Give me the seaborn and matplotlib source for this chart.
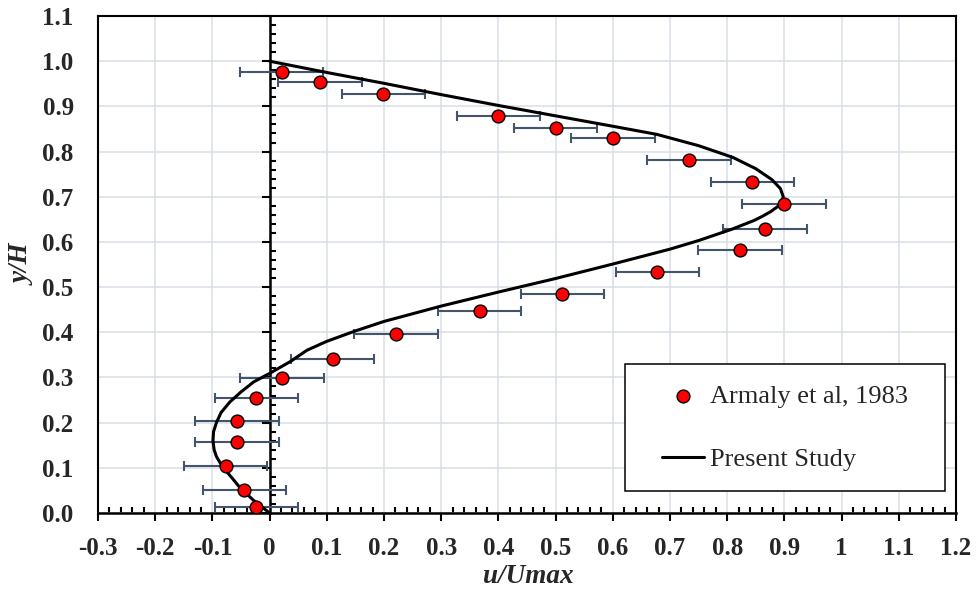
import matplotlib
matplotlib.use("Agg")
import matplotlib.pyplot as plt
from matplotlib.ticker import MultipleLocator
from matplotlib.patches import Rectangle
import seaborn as sns

# Measured velocity profile, Armaly et al. (1983)
exp_u = [0.021, 0.088, 0.199, 0.400, 0.500, 0.600, 0.733, 0.844, 0.899, 0.866,
         0.822, 0.678, 0.512, 0.367, 0.221, 0.110, 0.022, -0.023, -0.057, -0.057,
         -0.077, -0.044, -0.023]
exp_y = [0.975, 0.954, 0.928, 0.878, 0.852, 0.831, 0.781, 0.732, 0.685, 0.629,
         0.581, 0.533, 0.485, 0.446, 0.396, 0.341, 0.299, 0.255, 0.203, 0.157,
         0.105, 0.051, 0.014]
exp_err = 0.073

# Computed velocity profile, present study
sim_u = [0.000, 0.100, 0.200, 0.300, 0.400, 0.500, 0.600, 0.677, 0.750, 0.810,
         0.850, 0.878, 0.893, 0.898, 0.896, 0.888, 0.876, 0.862, 0.848, 0.808,
         0.750, 0.700, 0.600, 0.500, 0.400, 0.300, 0.200, 0.150, 0.100, 0.065,
         0.036, 0.000, -0.028, -0.050, -0.070, -0.085, -0.093, -0.098, -0.099, -0.097,
         -0.093, -0.085, -0.076, -0.064, -0.053, -0.040, -0.028, -0.014, 0.000]
sim_y = [1.000, 0.975, 0.951, 0.926, 0.902, 0.879, 0.856, 0.838, 0.813, 0.787,
         0.762, 0.738, 0.718, 0.700, 0.690, 0.678, 0.667, 0.657, 0.648, 0.628,
         0.603, 0.584, 0.551, 0.519, 0.489, 0.458, 0.424, 0.403, 0.380, 0.360,
         0.335, 0.309, 0.290, 0.268, 0.245, 0.222, 0.200, 0.180, 0.160, 0.140,
         0.125, 0.108, 0.093, 0.075, 0.058, 0.042, 0.028, 0.014, 0.000]

x_ticks = [-0.3, -0.2, -0.1, 0.0, 0.1, 0.2, 0.3, 0.4, 0.5, 0.6, 0.7, 0.8, 0.9, 1.0, 1.1, 1.2]
x_tick_labels = ["-0.3", "-0.2", "-0.1", "0", "0.1", "0.2", "0.3", "0.4", "0.5", "0.6",
                 "0.7", "0.8", "0.9", "1", "1.1", "1.2"]
y_ticks = [0.0, 0.1, 0.2, 0.3, 0.4, 0.5, 0.6, 0.7, 0.8, 0.9, 1.0, 1.1]
y_tick_labels = ["0.0", "0.1", "0.2", "0.3", "0.4", "0.5", "0.6", "0.7", "0.8", "0.9",
                 "1.0", "1.1"]

sns.set_style("white")
plt.rcParams["font.family"] = ["Liberation Serif", "DejaVu Serif"]
plt.rcParams["axes.unicode_minus"] = False

W, H, DPI = 977, 589, 100
fig, ax = plt.subplots(figsize=(W / DPI, H / DPI), dpi=DPI)
fig.subplots_adjust(left=98 / W, right=956 / W, bottom=1 - 513 / H, top=1 - 16 / H)

x_min, x_max = -0.3, 1.2
ax.set_xlim(x_min, x_max)
ax.set_ylim(0.0, 1.1)

# grid
ax.set_axisbelow(True)
ax.grid(True, which="major", color="#D9DEE7", linewidth=1.1)

# data
ax.errorbar(exp_u, exp_y, xerr=exp_err, fmt="none", ecolor="#44546A",
            elinewidth=1.5, capsize=3.6, capthick=1.5, zorder=3)
sns.lineplot(x=sim_u, y=sim_y, sort=False, estimator=None, color="black",
             linewidth=2.2, ax=ax, label="Present Study", zorder=4,
             solid_joinstyle="round", solid_capstyle="round")
sns.scatterplot(x=exp_u, y=exp_y, s=85, color="#FF0000", edgecolor="black",
                linewidth=1.0, ax=ax, label="Armaly et al, 1983", zorder=5)

# ticks and tick labels
ax.set_xticks(x_ticks, x_tick_labels)
ax.set_yticks(y_ticks, y_tick_labels)
ax.xaxis.set_minor_locator(MultipleLocator(0.02))
x_pad = 8.5
ax.tick_params(axis="x", which="major", direction="out", length=6, width=1.5,
               pad=x_pad, labelsize=18, color="black", bottom=True)
ax.tick_params(axis="x", which="minor", direction="in", length=4.5, width=1.5,
               color="black", bottom=True)
ax.tick_params(axis="y", which="both", length=0, pad=17.5, labelsize=18)
for lab in ax.get_xticklabels() + ax.get_yticklabels():
    lab.set_fontweight("bold")

for side in ["left", "right", "top", "bottom"]:
    ax.spines[side].set_visible(True)
    ax.spines[side].set_color("black")
    ax.spines[side].set_linewidth(1.5)
ax.spines["bottom"].set_linewidth(1.8)

# vertical axis line crossing at u = 0
sec = ax.secondary_yaxis((0.0 - x_min) / (x_max - x_min))
sec.set_yticks(y_ticks)
sec.yaxis.set_minor_locator(MultipleLocator(0.02))
sec.tick_params(which="major", direction="out", length=6, width=1.5,
                labelleft=False, labelright=False, color="black")
sec.tick_params(which="minor", direction="in", length=4.5, width=1.5, color="black")
sec.spines["left"].set_linewidth(1.8)
sec.spines["left"].set_color("black")
sec.set_zorder(1.5)

# axis titles
ax.set_xlabel("u/Umax", fontsize=19.5, fontweight="bold", fontstyle="italic")
ax.set_ylabel("y/H", fontsize=19.5, fontweight="bold", fontstyle="italic")
ax.xaxis.label.set_va("center")
ax.yaxis.label.set_va("center")
ax.xaxis.set_label_coords(0.502, -0.127)
ax.yaxis.set_label_coords(-0.0874, 0.5)

# legend
box = (0.6142, 0.0443, 0.373, 0.2555)
ax.add_patch(Rectangle(box[:2], box[2], box[3], transform=ax.transAxes,
                       facecolor="white", edgecolor="black", linewidth=1.1, zorder=6))
handles, labels = ax.get_legend_handles_labels()
order = [labels.index("Armaly et al, 1983"), labels.index("Present Study")]
leg = ax.legend([handles[i] for i in order], [labels[i] for i in order],
                loc="center", bbox_to_anchor=box, bbox_transform=ax.transAxes,
                frameon=False, prop={"family": "Liberation Serif", "size": 19},
                handlelength=1.6, handletextpad=0.2, labelspacing=1.5,
                borderpad=0, scatterpoints=1)
leg.set_zorder(7)

# place the x tick labels so their tops sit just below the tick marks
fig.canvas.draw()
renderer = fig.canvas.get_renderer()
label_top = H - ax.get_xticklabels()[0].get_window_extent(renderer).y1
shift_px = 537 - label_top
ax.tick_params(axis="x", which="major", pad=x_pad + shift_px * 72 / DPI)

fig.savefig("out.png", dpi=DPI)
